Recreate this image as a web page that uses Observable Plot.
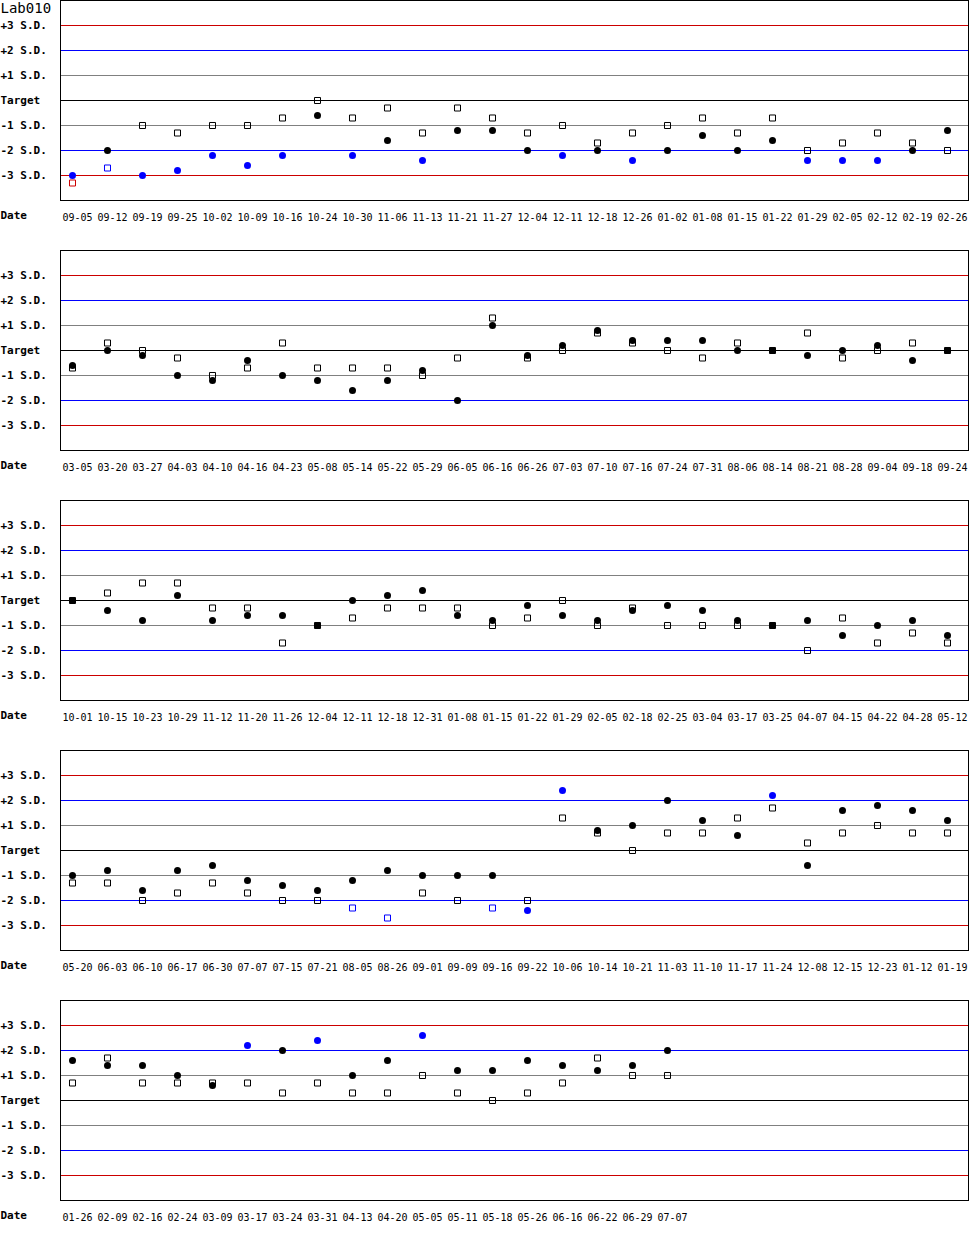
<!DOCTYPE html>
<html>
<head>
<meta charset="utf-8">
<script src="https://cdn.jsdelivr.net/npm/d3@7"></script>
<script src="https://cdn.jsdelivr.net/npm/@observablehq/plot@0.6"></script>
<style>
  html, body { margin: 0; padding: 0; background: white; }
  #chart svg { display: block; }
</style>
</head>
<body>
<div id="chart"></div>
<script>
const title = "Lab010";
const levels = [3, 2, 1, 0, -1, -2, -3];
const levelLabels = ["+3 S.D.", "+2 S.D.", "+1 S.D.", "Target", "-1 S.D.", "-2 S.D.", "-3 S.D."];
const levelColors = ["#cc0000", "#0000ff", "#808080", "#000000", "#808080", "#0000ff", "#cc0000"];

const dates1 = ["09-05","09-12","09-19","09-25","10-02","10-09","10-16","10-24","10-30","11-06","11-13","11-21","11-27","12-04","12-11","12-18","12-26","01-02","01-08","01-15","01-22","01-29","02-05","02-12","02-19","02-26"];
const circles1 = [-3.0,-2.0,-3.0,-2.8,-2.2,-2.6,-2.2,-0.6,-2.2,-1.6,-2.4,-1.2,-1.2,-2.0,-2.2,-2.0,-2.4,-2.0,-1.4,-2.0,-1.6,-2.4,-2.4,-2.4,-2.0,-1.2];
const squares1 = [-3.3,-2.7,-1.0,-1.3,-1.0,-1.0,-0.7,0,-0.7,-0.3,-1.3,-0.3,-0.7,-1.3,-1.0,-1.7,-1.3,-1.0,-0.7,-1.3,-0.7,-2.0,-1.7,-1.3,-1.7,-2.0];

const dates2 = ["03-05","03-20","03-27","04-03","04-10","04-16","04-23","05-08","05-14","05-22","05-29","06-05","06-16","06-26","07-03","07-10","07-16","07-24","07-31","08-06","08-14","08-21","08-28","09-04","09-18","09-24"];
const circles2 = [-0.6,0,-0.2,-1.0,-1.2,-0.4,-1.0,-1.2,-1.6,-1.2,-0.8,-2.0,1.0,-0.2,0.2,0.8,0.4,0.4,0.4,0,0,-0.2,0,0.2,-0.4,0];
const squares2 = [-0.7,0.3,0,-0.3,-1.0,-0.7,0.3,-0.7,-0.7,-0.7,-1.0,-0.3,1.3,-0.3,0,0.7,0.3,0,-0.3,0.3,0,0.7,-0.3,0,0.3,0];

const dates3 = ["10-01","10-15","10-23","10-29","11-12","11-20","11-26","12-04","12-11","12-18","12-31","01-08","01-15","01-22","01-29","02-05","02-18","02-25","03-04","03-17","03-25","04-07","04-15","04-22","04-28","05-12"];
const circles3 = [0,-0.4,-0.8,0.2,-0.8,-0.6,-0.6,-1.0,0,0.2,0.4,-0.6,-0.8,-0.2,-0.6,-0.8,-0.4,-0.2,-0.4,-0.8,-1.0,-0.8,-1.4,-1.0,-0.8,-1.4];
const squares3 = [0,0.3,0.7,0.7,-0.3,-0.3,-1.7,-1.0,-0.7,-0.3,-0.3,-0.3,-1.0,-0.7,0,-1.0,-0.3,-1.0,-1.0,-1.0,-1.0,-2.0,-0.7,-1.7,-1.3,-1.7];

const dates4 = ["05-20","06-03","06-10","06-17","06-30","07-07","07-15","07-21","08-05","08-26","09-01","09-09","09-16","09-22","10-06","10-14","10-21","11-03","11-10","11-17","11-24","12-08","12-15","12-23","01-12","01-19"];
const circles4 = [-1.0,-0.8,-1.6,-0.8,-0.6,-1.2,-1.4,-1.6,-1.2,-0.8,-1.0,-1.0,-1.0,-2.4,2.4,0.8,1.0,2.0,1.2,0.6,2.2,-0.6,1.6,1.8,1.6,1.2];
const squares4 = [-1.3,-1.3,-2.0,-1.7,-1.3,-1.7,-2.0,-2.0,-2.3,-2.7,-1.7,-2.0,-2.3,-2.0,1.3,0.7,0,0.7,0.7,1.3,1.7,0.3,0.7,1.0,0.7,0.7];

const dates5 = ["01-26","02-09","02-16","02-24","03-09","03-17","03-24","03-31","04-13","04-20","05-05","05-11","05-18","05-26","06-16","06-22","06-29","07-07"];
const circles5 = [1.6,1.4,1.4,1.0,0.6,2.2,2.0,2.4,1.0,1.6,2.6,1.2,1.2,1.6,1.4,1.2,1.4,2.0];
const squares5 = [0.7,1.7,0.7,0.7,0.7,0.7,0.3,0.7,0.3,0.3,1.0,0.3,0,0.3,0.7,1.7,1.0,1.0];

const panels = [
  [dates1, circles1, squares1],
  [dates2, circles2, squares2],
  [dates3, circles3, squares3],
  [dates4, circles4, squares4],
  [dates5, circles5, squares5]
];

const MONO = "'DejaVu Sans Mono', 'Liberation Mono', monospace";
const SLOTS = 26;

function markerColor(v) {
  const a = Math.abs(v);
  if (a > 3.001) return "#cc0000";
  if (a > 2.001) return "#0000ff";
  return "#000000";
}

const levelRows = levels.map((v, i) => ({v, label: levelLabels[i], color: levelColors[i]}));

panels.forEach(([dates, circles, squares], p) => {
  const circ = circles.map((v, i) => ({i, v}));
  const sq = squares.map((v, i) => ({i, v}));
  const marks = [
    Plot.ruleY(levelRows, {y: "v", stroke: "color", strokeWidth: 1}),
    Plot.frame({stroke: "black", strokeWidth: 1}),
    Plot.dot(sq, {x: "i", y: "v", symbol: "square", r: 3.4, fill: "none", stroke: d => markerColor(d.v), strokeWidth: 1}),
    Plot.dot(circ, {x: "i", y: "v", r: 3.5, fill: d => markerColor(d.v), stroke: "none"}),
    Plot.text(levelRows, {y: "v", text: "label", frameAnchor: "left", dx: -60, dy: -0.5, textAnchor: "start",
      lineAnchor: "middle", fontFamily: MONO, fontWeight: "bold", fontSize: 11, fill: "black"}),
    Plot.text(dates, {x: (d, i) => i, y: () => -4, text: d => d, dy: 17, dx: -10, textAnchor: "start",
      lineAnchor: "middle", fontFamily: MONO, fontSize: 10, fill: "black"}),
    Plot.text(["Date"], {frameAnchor: "bottom-left", dx: -60, dy: 15, textAnchor: "start",
      lineAnchor: "middle", fontFamily: MONO, fontWeight: "bold", fontSize: 11, fill: "black"})
  ];
  if (p === 0) {
    marks.push(Plot.text([title], {frameAnchor: "top-left", dx: -60, dy: 8, textAnchor: "start",
      lineAnchor: "middle", fontFamily: MONO, fontSize: 14, fill: "black"}));
  }
  const chart = Plot.plot({
    width: 970,
    height: 250,
    marginLeft: 60,
    marginRight: 2,
    marginTop: 0,
    marginBottom: 50,
    x: {type: "linear", domain: [0, SLOTS - 1], range: [72, 947], axis: null},
    y: {type: "linear", domain: [-4, 4], axis: null},
    color: {type: "identity"},
    style: {background: "white", overflow: "visible"},
    marks
  });
  document.getElementById("chart").appendChild(chart);
});
</script>
</body>
</html>
